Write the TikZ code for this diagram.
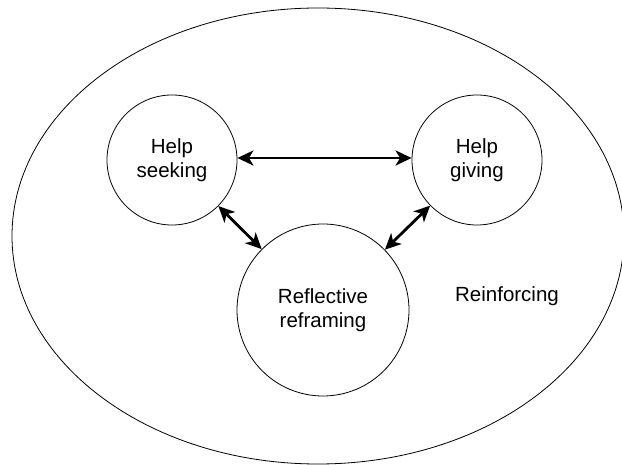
\documentclass[tikz,border=0pt]{standalone}
\usepackage{fontspec}
\setmainfont{Liberation Sans}
\usepackage{tikz}
\usetikzlibrary{arrows.meta, shapes.geometric}

\begin{document}
\begin{tikzpicture}[x=1pt, y=-1pt, font=\fontsize{20.5}{24}\selectfont,
        loop/.style={circle, draw, line width=0.8pt, inner sep=0pt, align=center},
        link/.style={{Stealth[length=16pt, width=15pt, inset=4.5pt]}-{Stealth[length=16pt, width=15pt, inset=4.5pt]}, line width=2.8pt}]
            \useasboundingbox (0,0) rectangle (622,465);
            % Nodes
            \node[ellipse, draw, line width=0.8pt, minimum width=612, minimum height=456, inner sep=0pt] (outer) at (318,236) {};
            \node[loop, minimum size=130] (seek) at (172,160) {Help\\seeking};
            \node[loop, minimum size=130] (give) at (477,160) {Help\\giving};
            \node[loop, minimum size=172] (reframe) at (323,310) {Reflective\\reframing};
            \node (reinf) at (507,296) {Reinforcing};
            
            % Edges
            \draw[link] ([yshift=2pt]seek.east) -- ([yshift=2pt]give.west);
            \draw[link] (seek) -- (reframe);
            \draw[link] (give) -- (reframe);
        \end{tikzpicture}
\end{document}
